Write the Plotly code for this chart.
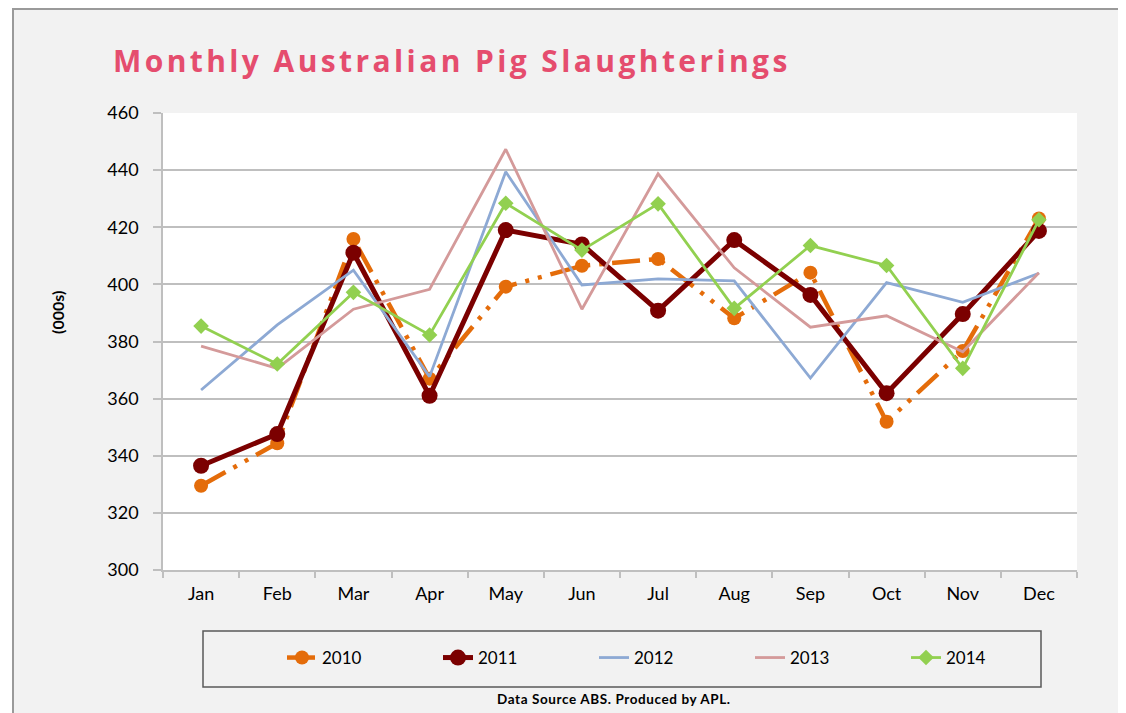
import plotly.graph_objects as go

months = ["Jan", "Feb", "Mar", "Apr", "May", "Jun", "Jul", "Aug", "Sep", "Oct", "Nov", "Dec"]
y2010 = [329.5, 344.4, 415.9, 367.0, 399.2, 406.5, 408.9, 388.1, 404.1, 351.9, 376.7, 423.1]
y2011 = [336.5, 347.6, 411.1, 361.0, 419.0, 414.0, 390.8, 415.5, 396.3, 361.9, 389.6, 418.7]
y2012 = [363.0, 385.8, 405.0, 367.7, 439.4, 399.8, 401.9, 401.2, 367.2, 400.6, 393.7, 403.9]
y2013 = [378.4, 370.6, 391.3, 398.3, 447.3, 391.3, 438.7, 405.8, 385.0, 389.0, 376.4, 404.1]
y2014 = [385.4, 372.1, 397.2, 382.3, 428.4, 412.0, 428.2, 391.6, 413.6, 406.6, 370.6, 422.6]
y_ticks = [300, 320, 340, 360, 380, 400, 420, 440, 460]

# page has an 8px body margin: figure origin sits at page (8, 8)
OFF = 8
W, H = 1126 - OFF, 713 - OFF
# plot area in page pixels
PX0, PX1, PY0, PY1 = 163, 1077, 113, 570
X0, X1, Y0, Y1 = PX0 - OFF, PX1 - OFF, PY0 - OFF, PY1 - OFF


def px(xp):
    """page x pixel -> paper fraction"""
    return (xp - OFF - X0) / (X1 - X0)


def py(yp):
    """page y pixel -> paper fraction"""
    return (Y1 - (yp - OFF)) / (Y1 - Y0)


FONT = "Lato, 'Open Sans', sans-serif"
TITLE_FONT = "'Open Sans', Lato, sans-serif"

fig = go.Figure()
fig.add_trace(go.Scatter(x=months, y=y2010, name="2010", mode="lines+markers",
                         line=dict(color="#E46C0A", width=4.5, dash="28px,9px,4px,9px,4px,9px"),
                         marker=dict(symbol="circle", size=14, color="#E46C0A")))
fig.add_trace(go.Scatter(x=months, y=y2011, name="2011", mode="lines+markers",
                         line=dict(color="#7B0000", width=5),
                         marker=dict(symbol="circle", size=16, color="#7B0000")))
fig.add_trace(go.Scatter(x=months, y=y2012, name="2012", mode="lines",
                         line=dict(color="#8DA9D4", width=2.8)))
fig.add_trace(go.Scatter(x=months, y=y2013, name="2013", mode="lines",
                         line=dict(color="#D49A9A", width=2.8)))
fig.add_trace(go.Scatter(x=months, y=y2014, name="2014", mode="lines+markers",
                         line=dict(color="#92D050", width=2.8),
                         marker=dict(symbol="diamond", size=12, color="#92D050")))

shapes = [
    # grey frame
    dict(type="rect", xref="paper", yref="paper", x0=px(12), x1=px(1140), y0=py(8), y1=py(730),
         fillcolor="#F2F2F2", line=dict(width=0), layer="below"),
    dict(type="line", xref="paper", yref="paper", x0=px(13), x1=px(13), y0=py(8), y1=py(730),
         line=dict(color="#9A9A9A", width=2), layer="below"),
    dict(type="line", xref="paper", yref="paper", x0=px(12), x1=px(1140), y0=py(9), y1=py(9),
         line=dict(color="#9A9A9A", width=2), layer="below"),
    # white plot area
    dict(type="rect", xref="paper", yref="paper", x0=0, x1=1, y0=0, y1=1,
         fillcolor="white", line=dict(width=0), layer="below"),
    # legend box
    dict(type="rect", xref="paper", yref="paper", x0=px(203), x1=px(1041), y0=py(631), y1=py(687),
         fillcolor="rgba(0,0,0,0)", line=dict(color="#5A5A5A", width=1.5), layer="below"),
]

annotations = [
    dict(text="<b>(000s)</b>", xref="paper", yref="paper", x=px(57), y=py(313),
         textangle=-90, showarrow=False, font=dict(family=FONT, size=16, color="#000000"),
         xanchor="center", yanchor="middle"),
    dict(text="<b><span style='letter-spacing:0.6px'>Data Source ABS. Produced by APL.</span></b>",
         xref="paper", yref="paper",
         x=px(614), y=py(699), showarrow=False, font=dict(family=FONT, size=13.5, color="#000000"),
         xanchor="center", yanchor="middle"),
]

fig.update_layout(
    width=W, height=H,
    margin=dict(l=X0, r=W - X1, t=Y0, b=H - Y1, autoexpand=False),
    paper_bgcolor="white",
    plot_bgcolor="white",
    title=dict(text="<b><span style='letter-spacing:3.4px'>Monthly Australian Pig Slaughterings</span></b>",
               xref="container", x=(113 - OFF) / W,
               xanchor="left", yref="container", y=1 - (61 - OFF) / H, yanchor="middle",
               font=dict(family=TITLE_FONT, size=30, color="#E54D6E")),
    shapes=shapes,
    annotations=annotations,
    showlegend=True,
    legend=dict(orientation="h", x=px(282), y=py(658), xanchor="left", yanchor="middle",
                bgcolor="rgba(0,0,0,0)", borderwidth=0, entrywidth=111, entrywidthmode="pixels",
                font=dict(family=FONT, size=17, color="#000000"), traceorder="normal"),
    xaxis=dict(type="category", categoryorder="array", categoryarray=months,
               showgrid=False, showline=True, linecolor="#BFBFBF", linewidth=1.5,
               ticks="outside", tickson="boundaries", ticklen=6, tickcolor="#BFBFBF", tickwidth=1.5,
               tickfont=dict(family=FONT, size=18, color="#000000"), ticklabelstandoff=7,
               range=[-0.5, 11.5], zeroline=False, fixedrange=True),
    yaxis=dict(range=[300, 460], tickvals=y_ticks, ticktext=[str(v) for v in y_ticks],
               showgrid=True, gridcolor="#BFBFBF", gridwidth=1.5,
               showline=True, linecolor="#BFBFBF", linewidth=1.5,
               ticks="outside", ticklen=8, tickcolor="#BFBFBF", tickwidth=1.5,
               tickfont=dict(family=FONT, size=18, color="#000000"), ticklabelstandoff=11,
               zeroline=False, fixedrange=True),
)

fig.write_html("out.html")
